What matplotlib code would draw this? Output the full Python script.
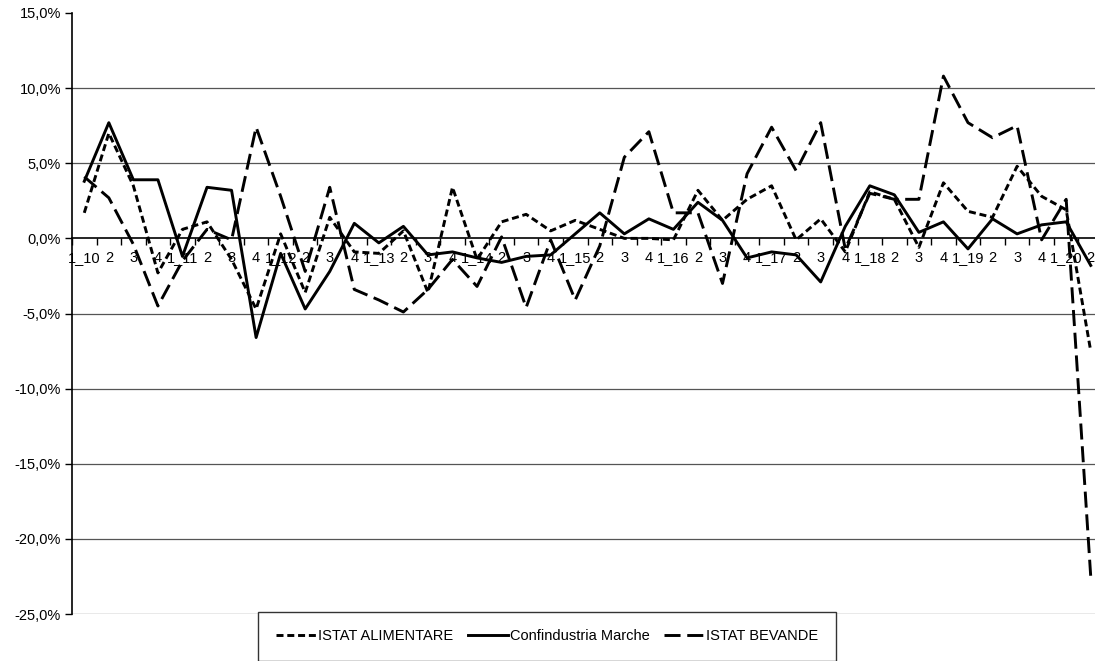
import matplotlib.pyplot as plt
from matplotlib.ticker import FuncFormatter, MultipleLocator

plt.rcParams['font.family'] = ['Liberation Sans', 'DejaVu Sans']

# trimestri 2010 Q1 - 2020 Q2
etichette = []
for i in range(42):
    if i % 4 == 0:
        etichette.append(f'1_{10 + i // 4}')
    else:
        etichette.append(str(i % 4 + 1))

# variazioni %
istat_alimentare = [1.7, 7.0, 3.5, -2.3, 0.6, 1.1, -1.4, -4.7, 0.3, -3.6,
                    1.4, -0.9, -1.0, 0.5, -3.6, 3.4, -1.4, 1.1, 1.6, 0.5,
                    1.2, 0.6, 0.0, 0.0, -0.1, 3.2, 1.2, 2.6, 3.5, -0.1,
                    1.3, -0.9, 3.1, 2.6, -0.6, 3.7, 1.8, 1.4, 4.8, 2.8,
                    1.9, -7.5]
confindustria = [3.8, 7.7, 3.9, 3.9, -1.2, 3.4, 3.2, -6.6, -1.0, -4.7,
                 -2.2, 1.0, -0.3, 0.8, -1.1, -0.9, -1.3, -1.6, -1.2, -1.1,
                 0.3, 1.7, 0.3, 1.3, 0.6, 2.4, 1.2, -1.3, -0.9, -1.1,
                 -2.9, 0.8, 3.5, 2.9, 0.4, 1.1, -0.7, 1.3, 0.3, 0.9,
                 1.1, -1.8]
istat_bevande = [4.1, 2.7, -0.4, -4.5, -1.5, 0.6, -0.1, 7.4, 2.8, -2.2,
                 3.4, -3.4, -4.1, -4.9, -3.4, -1.4, -3.2, 0.1, -4.6, -0.1,
                 -4.1, -0.5, 5.4, 7.1, 1.7, 1.7, -3.0, 4.3, 7.4, 4.5,
                 7.7, -0.7, 3.0, 2.6, 2.6, 10.8, 7.7, 6.7, 7.5, -0.1,
                 2.6, -22.5]

W, H = 1095, 661
fig = plt.figure(figsize=(W / 100, H / 100), dpi=100)
# il grafico originale è tagliato a destra
ax = fig.add_axes([72 / W, (H - 614) / H, (1103 - 72) / W, (614 - 13) / H])

x = list(range(len(etichette)))
lw = 2.1
ax.plot(x, istat_alimentare, color='black', lw=lw, dashes=(2.4, 1.3),
        label='ISTAT ALIMENTARE')
ax.plot(x, confindustria, color='black', lw=lw, label='Confindustria Marche')
ax.plot(x, istat_bevande, color='black', lw=lw, dashes=(5.5, 2.3),
        label='ISTAT BEVANDE')

ax.set_xlim(-0.5, len(x) - 0.5)
ax.set_ylim(-25, 15)

# griglia orizzontale
for v in range(-25, 15, 5):
    if v != 0:
        ax.axhline(v, color='#555555', lw=0.9, zorder=0)

ax.yaxis.set_major_locator(MultipleLocator(5))
ax.yaxis.set_major_formatter(FuncFormatter(lambda v, p: f'{v:.1f}%'.replace('.', ',')))
ax.tick_params(axis='y', length=5, width=1, labelsize=10.5, pad=3)

ax.spines['bottom'].set_position(('data', 0))
ax.spines['bottom'].set_linewidth(1.2)
ax.spines['left'].set_linewidth(1.2)
ax.spines['top'].set_visible(False)
ax.spines['right'].set_visible(False)

ax.set_xticks([i + 0.5 for i in range(-1, len(x))])
ax.set_xticklabels([])
ax.tick_params(axis='x', which='major', length=5, width=1, direction='out')
ax.set_xticks(x, minor=True)
ax.set_xticklabels(etichette, minor=True)
ax.tick_params(axis='x', which='minor', length=0, labelsize=10.5, pad=9)

fig.legend(loc='upper left', ncol=3,
           bbox_to_anchor=(258 / W, (H - 612) / H),
           borderaxespad=0, frameon=True, fancybox=False,
           edgecolor='#333333', framealpha=1,
           fontsize=10.5, handlelength=2.8, handletextpad=0.1,
           borderpad=1.2, columnspacing=1.0)

fig.savefig('out.png', dpi=100)
